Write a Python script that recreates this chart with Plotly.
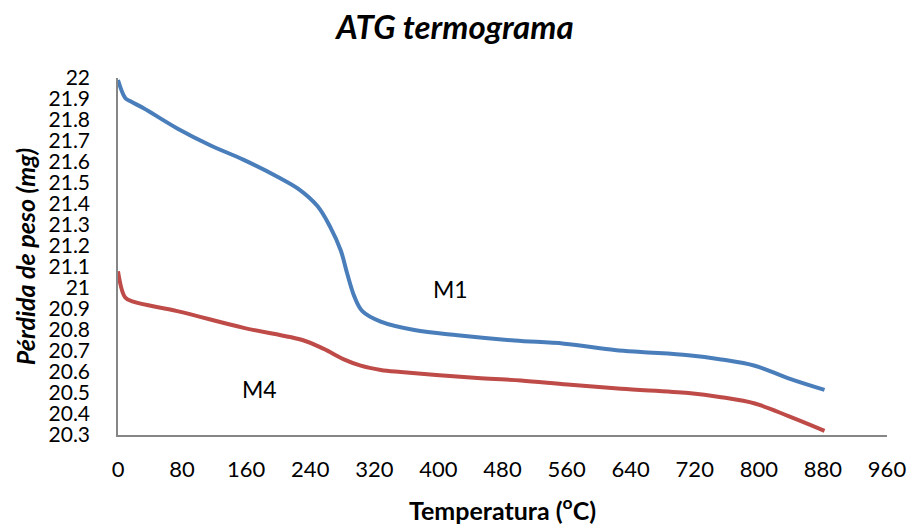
import plotly.graph_objects as go

# Data
temp_m1 = [0, 9, 15, 32, 74, 115, 157, 199, 226, 249, 265, 278, 286, 295, 305,
           328, 370, 424, 495, 557, 620, 653, 712, 753, 795, 837, 882]
peso_m1 = [21.99, 21.905, 21.89, 21.856, 21.76, 21.68, 21.61, 21.53, 21.47, 21.39,
           21.29, 21.18, 21.07, 20.96, 20.89, 20.84, 20.80, 20.775, 20.75, 20.735, 20.705,
           20.695, 20.68, 20.66, 20.63, 20.57, 20.515]

temp_m4 = [0, 9, 19, 74, 157, 232, 257, 282, 303, 328, 353, 453, 503, 561, 628, 712,
           753, 795, 837, 882]
peso_m4 = [21.08, 20.955, 20.935, 20.89, 20.81, 20.75, 20.71, 20.66, 20.63, 20.61, 20.60,
           20.57, 20.56, 20.54, 20.52, 20.50, 20.48, 20.45, 20.39, 20.32]

y_ticks = [20.3, 20.4, 20.5, 20.6, 20.7, 20.8, 20.9, 21, 21.1, 21.2, 21.3, 21.4, 21.5,
           21.6, 21.7, 21.8, 21.9, 22]
y_tick_labels = ["20.3", "20.4", "20.5", "20.6", "20.7", "20.8", "20.9", "21", "21.1",
                 "21.2", "21.3", "21.4", "21.5", "21.6", "21.7", "21.8", "21.9", "22"]
x_ticks = [0, 80, 160, 240, 320, 400, 480, 560, 640, 720, 800, 880, 960]

labels = ["M1", "M4"]
label_pos = [(415, 20.995), (177, 20.52)]

FONT = "Lato"

fig = go.Figure()
fig.add_trace(go.Scatter(x=temp_m1, y=peso_m1, mode="lines", name="M1",
                         line=dict(color="#4A7EBB", width=4, shape="spline", smoothing=1.0)))
fig.add_trace(go.Scatter(x=temp_m4, y=peso_m4, mode="lines", name="M4",
                         line=dict(color="#BE4B48", width=4, shape="spline", smoothing=1.0)))

for lab, (lx, ly) in zip(labels, label_pos):
    fig.add_annotation(x=lx, y=ly, text=lab, showarrow=False,
                       font=dict(family=FONT, size=23, color="black"))

fig.update_layout(
    width=910, height=525,
    paper_bgcolor="white", plot_bgcolor="white",
    showlegend=False,
    margin=dict(l=118, r=23, t=78, b=90),
    title=dict(text="<b><i>ATG termograma</i></b>", x=0.5, xanchor="center",
               y=0.947, yanchor="middle",
               font=dict(family=FONT, size=33, color="black")),
    font=dict(family=FONT, color="black"),
)
fig.update_xaxes(range=[0, 960], tickvals=x_ticks, showgrid=False, zeroline=False,
                 showline=True, linecolor="#868686", linewidth=1.5,
                 ticks="", ticklabelstandoff=14, automargin=False,
                 tickfont=dict(family=FONT, size=22, color="black"),
                 title=dict(text="<b>Temperatura (<sup>o</sup>C)</b>", standoff=22,
                            font=dict(family=FONT, size=25, color="black")))
fig.update_yaxes(range=[20.3, 22], tickvals=y_ticks, ticktext=y_tick_labels,
                 showgrid=False, zeroline=False,
                 showline=True, linecolor="#868686", linewidth=1.5,
                 ticks="", ticklabelstandoff=22, automargin=False,
                 tickfont=dict(family=FONT, size=21, color="black"),
                 title=dict(text="<b><i>Pérdida de peso (mg)</i></b>", standoff=6,
                            font=dict(family=FONT, size=25, color="black")))

fig.write_html("out.html", config={"displayModeBar": False},
               post_script="document.body.style.margin='0';")
